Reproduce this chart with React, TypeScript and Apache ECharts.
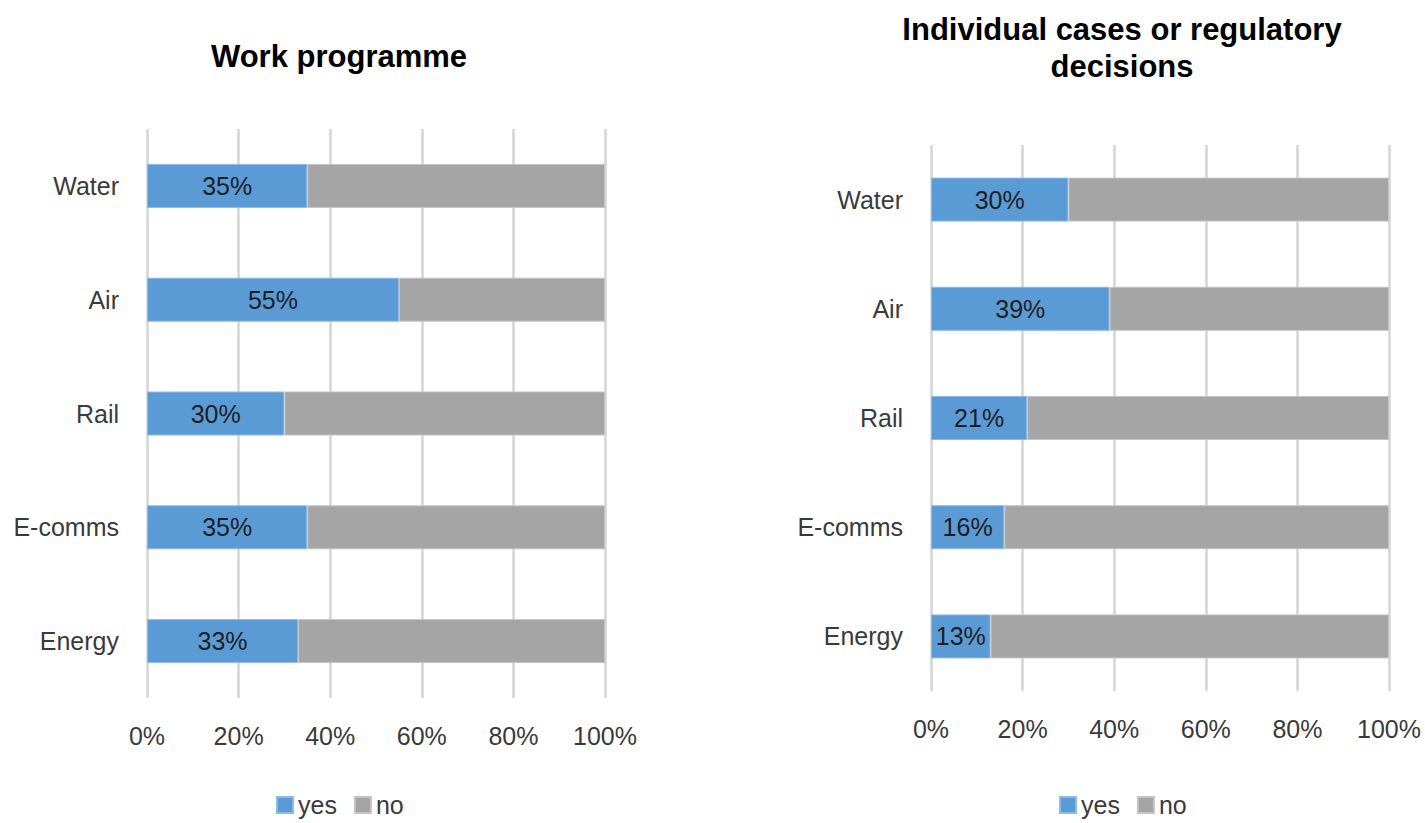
import React, { useEffect, useRef } from "react";
import * as echarts from "echarts";

const categories = ["Energy", "E-comms", "Rail", "Air", "Water"];
const workYes = [33, 35, 30, 55, 35];
const casesYes = [13, 16, 21, 39, 30];
const ticks = [0, 20, 40, 60, 80, 100];
const titleLeft = "Work programme";
const titleRight = "Individual cases or regulatory\ndecisions";

const FONT = "'Liberation Sans', Arial, sans-serif";
const BLUE = "#5B9BD5";
const GRAY = "#A5A5A5";

export default function App() {
  const ref = useRef<HTMLDivElement>(null);
  useEffect(() => {
    if (!ref.current) return;
    const chart = echarts.init(ref.current, null, { renderer: "svg" });
    const grids = [
      { left: 147, top: 129, width: 458, height: 569 },
      { left: 931, top: 145, width: 458, height: 546 },
    ];
    const xAxis = grids.map((_, i) => ({
      type: "value",
      gridIndex: i,
      min: ticks[0],
      max: ticks[ticks.length - 1],
      interval: 20,
      axisLine: { show: false },
      axisTick: { show: false },
      axisLabel: {
        formatter: "{value}%",
        fontSize: 25,
        fontFamily: FONT,
        color: "#3A3A3A",
        margin: 25,
      },
      splitLine: {
        show: true,
        lineStyle: { color: "#D4D4D4", width: 2.5 },
      },
    }));
    const yAxis = grids.map((_, i) => ({
      type: "category",
      gridIndex: i,
      data: categories,
      axisLine: { show: false },
      axisTick: { show: false },
      axisLabel: {
        fontSize: 25,
        fontFamily: FONT,
        color: "#3A3A3A",
        margin: 28,
      },
    }));
    const makeSeries = (vals: number[], idx: number) => [
      {
        name: "yes",
        type: "bar",
        stack: "s" + idx,
        xAxisIndex: idx,
        yAxisIndex: idx,
        barWidth: 44,
        data: vals,
        itemStyle: { color: BLUE, borderColor: "#8DB9E6", borderWidth: 1 },
        label: {
          show: true,
          position: "inside",
          formatter: "{c}%",
          fontSize: 25,
          fontFamily: FONT,
          color: "#1E1E1E",
        },
      },
      {
        name: "no",
        type: "bar",
        stack: "s" + idx,
        xAxisIndex: idx,
        yAxisIndex: idx,
        barWidth: 44,
        data: vals.map((v) => 100 - v),
        itemStyle: { color: GRAY, borderColor: "#C4C4C4", borderWidth: 1 },
      },
    ];
    const legendBase = {
      top: 792,
      itemWidth: 16,
      itemHeight: 16,
      itemGap: 17,
      icon: "rect",
      padding: 0,
      data: ["yes", "no"],
      textStyle: { fontSize: 25, fontFamily: FONT, color: "#3A3A3A", lineHeight: 26 },
    };
    chart.setOption({
      animation: false,
      backgroundColor: "#ffffff",
      title: [
        {
          text: titleLeft,
          left: 334,
          top: 36,
          textAlign: "center",
          textStyle: { fontSize: 31, fontWeight: "bold", fontFamily: FONT, color: "#000", lineHeight: 31 },
        },
        {
          text: titleRight,
          left: 1117,
          top: 6,
          textAlign: "center",
          textStyle: { fontSize: 31, fontWeight: "bold", fontFamily: FONT, color: "#000", lineHeight: 37 },
        },
      ],
      legend: [
        { ...legendBase, left: 276 },
        { ...legendBase, left: 1059 },
      ],
      grid: grids,
      xAxis,
      yAxis,
      series: [...makeSeries(workYes, 0), ...makeSeries(casesYes, 1)],
    });
    return () => chart.dispose();
  }, []);
  return (
    <div
      ref={ref}
      style={{ position: "fixed", left: 0, top: 0, width: 1425, height: 823 }}
    />
  );
}
